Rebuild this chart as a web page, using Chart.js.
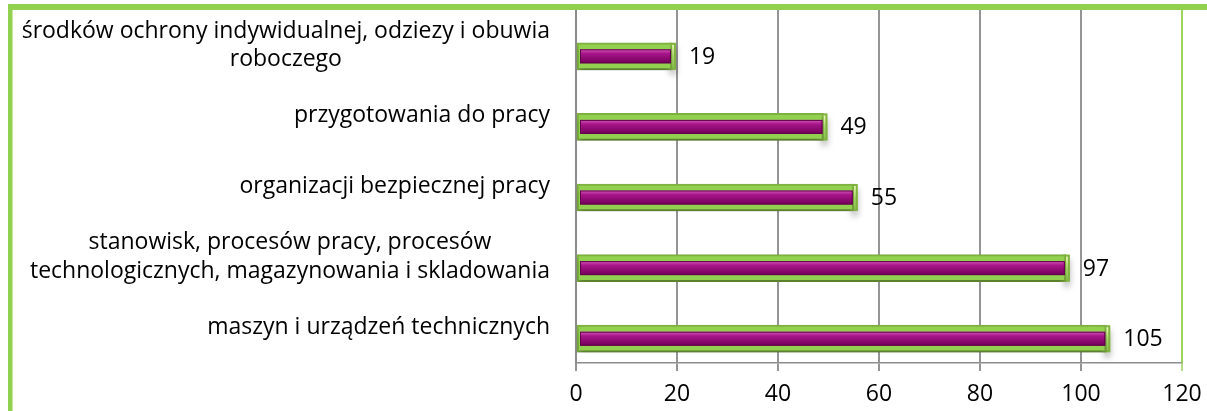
<!DOCTYPE html>
<html>
<head>
<meta charset="utf-8">
<script src="https://cdn.jsdelivr.net/npm/chart.js@4/dist/chart.umd.min.js"></script>
<style>
  html, body { margin: 0; padding: 0; background: #fff; }
  #wrap { position: relative; width: 1207px; height: 411px; }
</style>
</head>
<body>
<div id="wrap"><canvas id="myChart" width="1207" height="411"></canvas></div>
<script>
const categories = [
  ['środków ochrony indywidualnej, odziezy i obuwia', 'roboczego'],
  ['przygotowania do pracy'],
  ['organizacji bezpiecznej pracy'],
  ['stanowisk, procesów pracy, procesów', 'technologicznych, magazynowania i skladowania'],
  ['maszyn i urządzeń technicznych']
];
const values = [19, 49, 55, 97, 105];
const xTicks = [0, 20, 40, 60, 80, 100, 120];

const FONT = '"Open Sans", sans-serif';
const FONT_SIZE = 23;
const BAR_SHIFT = 11; // bars sit a bit lower than the label centres
const DEPTH = 4;      // bevel depth past the bar end

// category labels: block right-aligned, lines centred inside the block
const catLabels = {
  id: 'catLabels',
  afterDraw(chart) {
    const ctx = chart.ctx;
    const y = chart.scales.y;
    ctx.save();
    ctx.font = FONT_SIZE + 'px ' + FONT;
    ctx.fillStyle = '#000';
    ctx.textAlign = 'center';
    ctx.textBaseline = 'middle';
    const right = chart.chartArea.left - 26;
    const lh = 28.5;
    categories.forEach((lines, i) => {
      const w = Math.max(...lines.map(l => ctx.measureText(l).width));
      const cx = right - w / 2;
      const cy = y.getPixelForTick(i);
      lines.forEach((l, j) => {
        ctx.fillText(l, cx, cy + (j - (lines.length - 1) / 2) * lh);
      });
    });
    ctx.restore();
  }
};

function greenGrad(ctx, y) {
  const g = ctx.createLinearGradient(0, y - 13, 0, y + 13);
  g.addColorStop(0, '#f4fcc4');
  g.addColorStop(0.25, '#d2ee95');
  g.addColorStop(0.5, '#a9d66c');
  g.addColorStop(1, '#86bf48');
  return g;
}

// bevelled bars: green case drawn by Chart.js, purple core + value on top
const barLook = {
  id: 'barLook',
  beforeDatasetsDraw(chart) {
    const ctx = chart.ctx;
    ctx.save();
    ctx.translate(0, BAR_SHIFT);
    ctx.shadowColor = 'rgba(0,0,0,0.3)';
    ctx.shadowBlur = 6;
    ctx.shadowOffsetY = 5;
    // bevel cap behind the bar end
    const meta = chart.getDatasetMeta(0);
    meta.data.forEach((bar) => {
      const h = bar.height;
      ctx.fillStyle = greenGrad(ctx, bar.y);
      ctx.fillRect(bar.x - 2, bar.y - h / 2, DEPTH + 2, h);
      ctx.shadowColor = 'transparent';
      ctx.strokeStyle = '#7fb240';
      ctx.lineWidth = 2;
      ctx.strokeRect(bar.x - 2, bar.y - h / 2 + 1, DEPTH + 1, h - 2);
      ctx.shadowColor = 'rgba(0,0,0,0.3)';
    });
  },
  afterDatasetsDraw(chart) {
    const ctx = chart.ctx;
    ctx.shadowColor = 'transparent';
    const meta = chart.getDatasetMeta(0);
    meta.data.forEach((bar, i) => {
      const top = bar.y - 7, bot = bar.y + 7;
      const l = bar.base + 3, r = bar.x - 1;
      const g = ctx.createLinearGradient(0, top, 0, bot);
      g.addColorStop(0, '#d45ab8');
      g.addColorStop(0.3, '#a8158a');
      g.addColorStop(1, '#720058');
      ctx.fillStyle = g;
      ctx.fillRect(l, top, r - l, bot - top);
      ctx.strokeStyle = '#5e0048';
      ctx.lineWidth = 1;
      ctx.strokeRect(l + 0.5, top + 0.5, r - l - 1, bot - top - 1);

      ctx.font = FONT_SIZE + 'px ' + FONT;
      ctx.fillStyle = '#000';
      ctx.textAlign = 'left';
      ctx.textBaseline = 'middle';
      ctx.fillText(String(values[i]), bar.x + DEPTH + 13, bar.y + 1);
    });
    ctx.restore();
  }
};

// green frame and plot border
const frame = {
  id: 'frame',
  afterDraw(chart) {
    const ctx = chart.ctx;
    const a = chart.chartArea;
    ctx.save();
    ctx.strokeStyle = '#92d050';
    ctx.lineWidth = 1.5;
    ctx.beginPath();
    ctx.moveTo(a.right, a.top);
    ctx.lineTo(a.right, a.bottom);
    ctx.stroke();
    ctx.fillStyle = '#92d050';
    ctx.fillRect(8, 4, 1207 - 8, 6);
    ctx.fillRect(8, 4, 4.5, 411 - 4);
    ctx.restore();
  }
};

const ctx1 = document.getElementById('myChart');
const chart1 = new Chart(ctx1, {
  type: 'bar',
  data: {
    labels: categories,
    datasets: [{
      data: values,
      barThickness: 27,
      borderWidth: 2,
      borderSkipped: false,
      borderColor: '#7fb240',
      backgroundColor: (c) => {
        const el = c.element;
        if (!c.chart.chartArea || !el || el.y === undefined) return '#92d050';
        return greenGrad(c.chart.ctx, el.y);
      }
    }]
  },
  options: {
    indexAxis: 'y',
    responsive: false,
    animation: false,
    devicePixelRatio: 1,
    layout: { padding: { top: 10, right: 25, left: 0, bottom: 0 } },
    plugins: {
      legend: { display: false },
      tooltip: { enabled: false }
    },
    scales: {
      x: {
        min: 0,
        max: 120,
        afterBuildTicks: (s) => { s.ticks = xTicks.map(v => ({ value: v })); },
        afterFit: (s) => { s.height = 48; s.paddingRight = 0; s.paddingLeft = 0; },
        grid: {
          color: (c) => c.tick && c.tick.value === 120 ? '#b6dd8a' : '#949494',
          lineWidth: 2,
          tickLength: 8,
          drawOnChartArea: true
        },
        border: { display: true, color: '#8c8c8c', width: 1.5 },
        ticks: {
          color: '#000',
          padding: 10,
          font: { family: FONT, size: FONT_SIZE }
        }
      },
      y: {
        afterFit: (s) => { s.width = 576; },
        grid: { display: false },
        border: { display: true, color: '#8c8c8c', width: 2 },
        ticks: { display: false }
      }
    }
  },
  plugins: [catLabels, barLook, frame]
});
</script>
</body>
</html>
